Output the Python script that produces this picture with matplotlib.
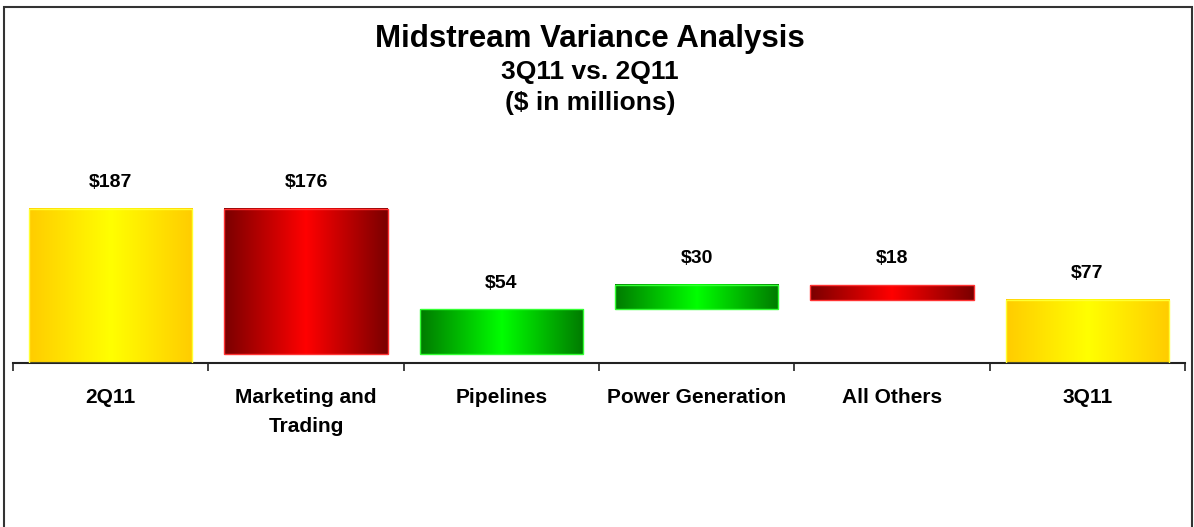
import numpy as np
import matplotlib.pyplot as plt
from matplotlib.colors import LinearSegmentedColormap
from matplotlib.patches import Rectangle

plt.rcParams['font.family'] = ['Liberation Sans', 'DejaVu Sans']

## the data
categories = ['2Q11', 'Marketing and\nTrading', 'Pipelines', 'Power Generation', 'All Others', '3Q11']
start_value = 187
changes = [-176, 54, 30, -18]
end_value = 77
value_labels = ['$187', '$176', '$54', '$30', '$18', '$77']

## waterfall geometry from the data
levels = np.concatenate([[start_value], start_value + np.cumsum(changes)])
bottoms = [0] + [min(levels[i], levels[i + 1]) for i in range(len(changes))] + [0]
heights = [start_value] + [abs(c) for c in changes] + [end_value]
kinds = ['total'] + ['up' if c > 0 else 'down' for c in changes] + ['total']

# gradient colours: edge, centre, edge
grads = {
    'total': ['#FFCC00', '#FFFF00', '#FFCC00'],
    'down': ['#7A0000', '#FF0000', '#7A0000'],
    'up': ['#007A00', '#00FF00', '#007A00'],
}
edges = {'total': '#FFFF33', 'down': '#FF3333', 'up': '#33FF33'}

fig = plt.figure(figsize=(11.94, 5.27), dpi=100)
ax = fig.add_axes([13 / 1194, 1 - 363 / 527, (1185 - 13) / 1194, 250 * 0.824 / 527])

ind = np.arange(len(categories))
width = 0.835

bars = ax.bar(ind, heights, width, bottom=bottoms, color='none',
              linewidth=1.0, zorder=3)
grad = np.linspace(0, 1, 256).reshape(1, -1)
for b, k in zip(bars, kinds):
    b.set_edgecolor(edges[k])
    cmap = LinearSegmentedColormap.from_list(k, grads[k])
    x0, y0 = b.get_x(), b.get_y()
    ax.imshow(grad, cmap=cmap, aspect='auto', zorder=2,
              extent=[x0, x0 + b.get_width(), y0, y0 + b.get_height()])

for b, lab in zip(bars, value_labels):
    ax.annotate(lab, (b.get_x() + b.get_width() / 2, b.get_y() + b.get_height()),
                xytext=(0, 19), textcoords='offset points', ha='center', va='center',
                fontsize=14, fontweight='bold')

# axes and labels
ax.set_xlim(-0.5, len(categories) - 0.5)
ax.set_ylim(0, 250)
for s in ['top', 'left', 'right']:
    ax.spines[s].set_visible(False)
ax.spines['bottom'].set_linewidth(1.5)
ax.spines['bottom'].set_color('#222222')
ax.set_yticks([])
ax.set_xticks(np.arange(len(categories) + 1) - 0.5)
ax.set_xticklabels([])
ax.tick_params(axis='x', which='major', length=6, width=1.2, color='#222222', direction='out')
ax.set_xticks(ind, minor=True)
ax.set_xticklabels(categories, minor=True, fontsize=15, fontweight='bold', linespacing=1.65)
ax.tick_params(axis='x', which='minor', length=0, pad=18)

## titles
fig.text(0.494, 1 - 39 / 527, 'Midstream Variance Analysis', ha='center', va='center',
         fontsize=22.5, fontweight='bold')
fig.text(0.494, 1 - 72 / 527, '3Q11 vs. 2Q11', ha='center', va='center',
         fontsize=19, fontweight='bold')
fig.text(0.494, 1 - 103 / 527, '($ in millions)', ha='center', va='center',
         fontsize=19, fontweight='bold')

## frame around the chart
fig.add_artist(Rectangle((4 / 1194, -0.05), (1192 - 4) / 1194, 1.05 - 7 / 527,
                         transform=fig.transFigure, fill=False,
                         edgecolor='#333333', linewidth=1.5))

fig.savefig('out.png', dpi=100)
